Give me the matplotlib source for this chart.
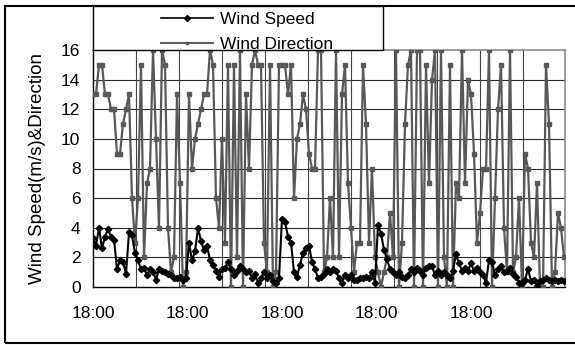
#!/usr/bin/env python3

import matplotlib
matplotlib.use("Agg")
import matplotlib.pyplot as plt
from matplotlib.lines import Line2D
from matplotlib.patches import Rectangle

plt.rcParams['font.family'] = ['Liberation Sans', 'DejaVu Sans']

# readings taken every ~3 px along the category axis
wind_direction = [
    13, 13, 15, 15, 13, 13, 12, 12, 9, 9,
    11, 12, 13, 6, 3, 6, 15, 2, 7, 8,
    16, 10, 4, 16, 15, 4, 1, 2, 13, 7,
    0, 1, 13, 8, 10, 11, 12, 13, 13, 16,
    15, 6, 4, 10, 3, 15, 0, 15, 2, 16,
    0, 13, 8, 15, 16, 15, 15, 3, 1, 15,
    0, 1, 15, 15, 15, 13, 15, 6, 10, 11,
    13, 12, 9, 8, 8, 16, 16, 1, 2, 6,
    2, 16, 2, 13, 15, 7, 4, 1, 3, 3,
    15, 11, 3, 8, 2, 1, 0, 1, 2, 5,
    2, 16, 0, 3, 11, 15, 16, 0, 16, 16,
    0, 15, 7, 14, 16, 0, 16, 2, 0, 15,
    0, 7, 6, 16, 7, 14, 13, 9, 3, 5,
    8, 8, 16, 0, 6, 12, 15, 4, 1, 16,
    1, 2, 6, 0, 9, 8, 3, 2, 7, 0,
    0, 15, 11, 0, 1, 5, 4, 2,
]

wind_speed = [
    3.3, 2.8, 4.0, 2.6, 3.4, 3.9, 3.4, 3.2, 1.2, 1.8,
    1.7, 0.9, 3.7, 3.5, 2.3, 1.8, 1.2, 1.3, 0.8, 1.2,
    1.0, 0.5, 1.2, 1.1, 1.0, 0.9, 0.8, 0.6, 0.6, 0.7,
    0.5, 0.6, 3.0, 1.8, 2.4, 4.0, 3.1, 2.5, 2.8, 1.8,
    1.5, 1.1, 0.7, 1.2, 1.3, 1.7, 1.2, 0.8, 1.1, 1.4,
    1.2, 1.0, 1.1, 0.6, 0.9, 0.3, 0.6, 1.0, 0.6, 0.8,
    0.4, 0.3, 0.6, 4.6, 4.4, 3.4, 3.0, 1.0, 0.7, 1.5,
    2.3, 2.6, 2.8, 1.7, 1.2, 0.6, 0.7, 0.9, 1.2, 1.0,
    1.2, 1.1, 0.6, 0.3, 0.8, 0.6, 0.8, 0.5, 0.5, 0.6,
    0.6, 0.7, 0.6, 1.0, 0.3, 4.2, 3.6, 2.5, 1.9, 1.2,
    1.0, 0.8, 1.0, 0.7, 0.6, 0.8, 1.2, 1.0, 1.3, 1.1,
    0.8, 1.3, 1.4, 1.4, 0.8, 1.1, 0.8, 1.0, 0.8, 0.6,
    1.1, 2.2, 1.6, 1.1, 1.3, 1.1, 1.6, 1.1, 1.3, 1.0,
    0.8, 0.3, 1.8, 1.7, 0.8, 1.2, 1.4, 1.0, 1.1, 1.3,
    0.9, 0.7, 0.3, 0.3, 0.5, 1.2, 0.4, 0.5, 0.1, 0.4,
    0.5, 0.6, 0.5, 0.4, 0.5, 0.4, 0.5, 0.4,
]

time_labels = ['18:00', '18:00', '18:00', '18:00', '18:00']
label_positions = [0, 31.5, 63, 94.5, 126]
y_ticks = [0, 2, 4, 6, 8, 10, 12, 14, 16]

DIR_GRAY = '#585858'

W, H = 575, 345
fig = plt.figure(figsize=(W / 100, H / 100), dpi=100)
ax = fig.add_axes([93 / W, 1 - 287 / H, 472 / W, 237 / H])

x = list(range(len(wind_direction)))

ax.plot(x, wind_direction, color=DIR_GRAY, lw=1.6, marker='s', markersize=2.4,
        zorder=3, label='Wind Direction')
ax.plot(x, wind_speed, color='black', lw=1.5, marker='D', markersize=3.2,
        zorder=4, label='Wind Speed')

ax.set_xlim(0, 157.33)
ax.set_ylim(0, 16)
ax.set_yticks(y_ticks)
ax.set_xticks(label_positions)
ax.set_xticklabels(time_labels)
ax.tick_params(axis='both', length=0, labelsize=12.5)
ax.tick_params(axis='x', pad=14)
ax.tick_params(axis='y', pad=9)

# grid lines
for yv in y_ticks[1:-1]:
    ax.axhline(yv, color='#2a2a2a', lw=0.8, zorder=1)
for k in range(1, 11):
    ax.axvline(k * 43 / 3, color='#444444', lw=0.8, zorder=1)

for s in ['left', 'bottom']:
    ax.spines[s].set_color('black')
    ax.spines[s].set_linewidth(1.0)
for s in ['right', 'top']:
    ax.spines[s].set_color('#8a8a8a')
    ax.spines[s].set_linewidth(1.2)

fig.text(38 / W, 1 - 168 / H, 'Wind Speed(m/s)&Direction', rotation=90,
         ha='center', va='center', fontsize=13.5)

# legend box above the plot area
fig.add_artist(Rectangle((93 / W, 1 - 50 / H), 290 / W, 44 / H,
                         transform=fig.transFigure, facecolor='white',
                         edgecolor='black', lw=1.0, zorder=5))
handles = [
    Line2D([], [], color='black', lw=1.2, marker='D', markersize=3),
    Line2D([], [], color=DIR_GRAY, lw=1.4, marker='s', markersize=2),
]
fig.legend(handles, ['Wind Speed', 'Wind Direction'], loc='center left',
           bbox_to_anchor=(152 / W, 1 - 32 / H), frameon=False, fontsize=12.5,
           handlelength=3.0, handletextpad=0.4, labelspacing=0.55,
           numpoints=1, borderpad=0)

# outer chart frame
fig.add_artist(Rectangle((5 / W, 1 - 343 / H), 580 / W, 337 / H,
                         transform=fig.transFigure, facecolor='none',
                         edgecolor='black', lw=1.5, zorder=0))

fig.savefig('out.png', dpi=100)
